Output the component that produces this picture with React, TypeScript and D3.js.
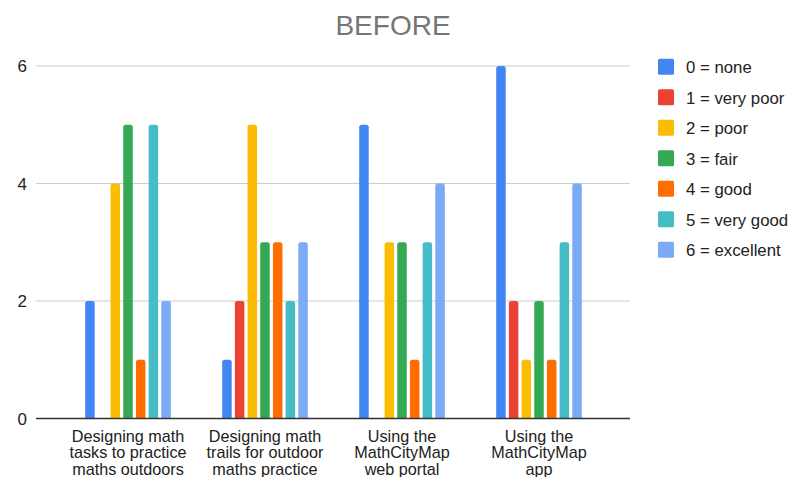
import React from "react";
import * as d3 from "d3";

const categories: string[][] = [
  ["Designing math", "tasks to practice", "maths outdoors"],
  ["Designing math", "trails for outdoor", "maths practice"],
  ["Using the", "MathCityMap", "web portal"],
  ["Using the", "MathCityMap", "app"],
];
const seriesNames = [
  "0 = none",
  "1 = very poor",
  "2 = poor",
  "3 = fair",
  "4 = good",
  "5 = very good",
  "6 = excellent",
];
const seriesColors = ["#4285F4", "#EA4335", "#FBBC04", "#34A853", "#FF6D01", "#46BDC6", "#7BAAF7"];
// values[category][series]
const values: number[][] = [
  [2, 0, 4, 5, 1, 5, 2],
  [1, 2, 5, 3, 3, 2, 3],
  [5, 0, 3, 3, 1, 3, 4],
  [6, 2, 1, 2, 1, 3, 4],
];
const yTicks = [0, 2, 4, 6];

const W = 788;
const H = 477;
const plotLeft = 36;
const plotRight = 630;
const yTop = 66;
const yBottom = 418.5;

function barPath(x: number, y: number, w: number, h: number, r: number) {
  if (h <= 0) return "";
  const rr = Math.min(r, h, w / 2);
  return `M${x},${y + h}V${y + rr}Q${x},${y} ${x + rr},${y}H${x + w - rr}Q${x + w},${y} ${x + w},${y + rr}V${y + h}Z`;
}

export default function App() {
  const y = d3.scaleLinear().domain([0, 6]).range([yBottom, yTop]);
  const x0 = d3
    .scaleBand<number>()
    .domain(categories.map((_, i) => i))
    .range([59.5, 607.5])
    .paddingInner(0)
    .paddingOuter(0);
  const groupW = x0.bandwidth() * 0.625;
  const x1 = d3
    .scaleBand<number>()
    .domain(seriesNames.map((_, i) => i))
    .range([0, groupW])
    .paddingInner(0.25)
    .paddingOuter(0);
  const font = "'Liberation Sans', Arial, sans-serif";

  return (
    <div style={{ position: "fixed", left: 0, top: 0 }}>
      <svg width={W} height={H} style={{ display: "block", background: "#fff" }}>
        <rect width={W} height={H} fill="#fff" />
        <text x={393} y={35} textAnchor="middle" fontFamily={font} fontSize={28} fill="#757575">
          BEFORE
        </text>
        {yTicks.map((t) => (
          <g key={t}>
            {t !== 0 && (
              <line x1={plotLeft} x2={plotRight} y1={y(t)} y2={y(t)} stroke="#cccccc" strokeWidth={1} />
            )}
            <text x={27} y={y(t) + 6} textAnchor="end" fontFamily={font} fontSize={17} fill="#222">
              {t}
            </text>
          </g>
        ))}
        {values.map((row, ci) => {
          const gx = (x0(ci) as number) + (x0.bandwidth() - groupW) / 2;
          return (
            <g key={ci}>
              {row.map((v, si) => {
                const bx = gx + (x1(si) as number);
                const by = y(v);
                return (
                  <path
                    key={si}
                    d={barPath(bx, by, x1.bandwidth(), y(0) - by, 2.5)}
                    fill={seriesColors[si]}
                  />
                );
              })}
            </g>
          );
        })}
        <line x1={plotLeft} x2={plotRight} y1={y(0)} y2={y(0)} stroke="#333" strokeWidth={1.5} />
        {categories.map((lines, ci) => {
          const cx = (x0(ci) as number) + x0.bandwidth() / 2;
          return (
            <text key={ci} textAnchor="middle" fontFamily={font} fontSize={16.2} fill="#222">
              {lines.map((l, li) => (
                <tspan key={li} x={cx} y={441.5 + li * 16.6}>
                  {l}
                </tspan>
              ))}
            </text>
          );
        })}
        {seriesNames.map((name, si) => {
          const cy = 66.7 + si * 30.5;
          return (
            <g key={si}>
              <rect x={658} y={cy - 8} width={16} height={16} rx={1.5} fill={seriesColors[si]} />
              <text x={686} y={cy + 6.5} fontFamily={font} fontSize={16.8} fill="#222">
                {name}
              </text>
            </g>
          );
        })}
      </svg>
    </div>
  );
}
